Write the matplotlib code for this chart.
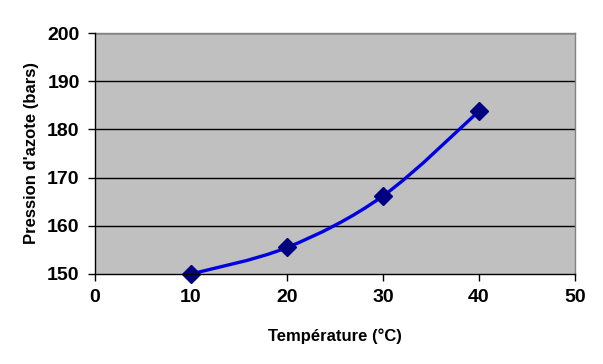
import matplotlib
matplotlib.use("Agg")
import matplotlib.pyplot as plt
from matplotlib.path import Path
from matplotlib.patches import PathPatch
import numpy as np

# valeurs
temperature = [10, 20, 30, 40]
pression = [150.0, 155.5, 166.2, 183.8]

x_ticks = [0, 10, 20, 30, 40, 50]
y_ticks = [150, 160, 170, 180, 190, 200]

x_label = "Température (°C)"
y_label = "Pression d'azote (bars)"


def smooth_path(xs, ys):
    # lissage façon Excel : Bezier de type Catmull-Rom
    pts = np.column_stack([xs, ys]).astype(float)
    n = len(pts)
    verts = [pts[0]]
    codes = [Path.MOVETO]
    for i in range(n - 1):
        p0 = pts[max(i - 1, 0)]
        p1 = pts[i]
        p2 = pts[i + 1]
        p3 = pts[min(i + 2, n - 1)]
        c1 = p1 + (p2 - p0) / 6.0
        c2 = p2 - (p3 - p1) / 6.0
        verts += [c1, c2, p2]
        codes += [Path.CURVE4] * 3
    return Path(verts, codes)


plt.rcParams["font.family"] = ["Liberation Sans", "DejaVu Sans"]

fig = plt.figure(figsize=(6.03, 3.64), dpi=100)
ax = fig.add_axes([95 / 603, 90 / 364, 480 / 603, 241 / 364])
ax.set_facecolor("#C0C0C0")

ax.set_xlim(0, 50)
ax.set_ylim(150, 200)
ax.set_xticks(x_ticks)
ax.set_yticks(y_ticks)

for y in y_ticks[1:]:
    ax.axhline(y, color="black", lw=1.0, zorder=1)

patch = PathPatch(smooth_path(temperature, pression), facecolor="none",
                  edgecolor="#0000E0", lw=2.4, zorder=3, clip_on=False)
ax.add_patch(patch)
ax.plot(temperature, pression, linestyle="none", marker="D", ms=9,
        color="#000080", zorder=4, clip_on=False)

for side in ["top", "right"]:
    ax.spines[side].set_color("#808080")
    ax.spines[side].set_linewidth(1.0)
for side in ["left", "bottom"]:
    ax.spines[side].set_color("black")
    ax.spines[side].set_linewidth(1.0)
    ax.spines[side].set_zorder(5)

ax.tick_params(direction="out", length=5, width=1, color="black",
               labelsize=14, pad=6)
for lab in ax.get_xticklabels() + ax.get_yticklabels():
    lab.set_fontweight("bold")

ax.set_xlabel(x_label, fontsize=12, fontweight="bold", labelpad=16)
ax.set_ylabel(y_label, fontsize=12, fontweight="bold", labelpad=6)

fig.savefig("out.png", dpi=100, facecolor="white")
